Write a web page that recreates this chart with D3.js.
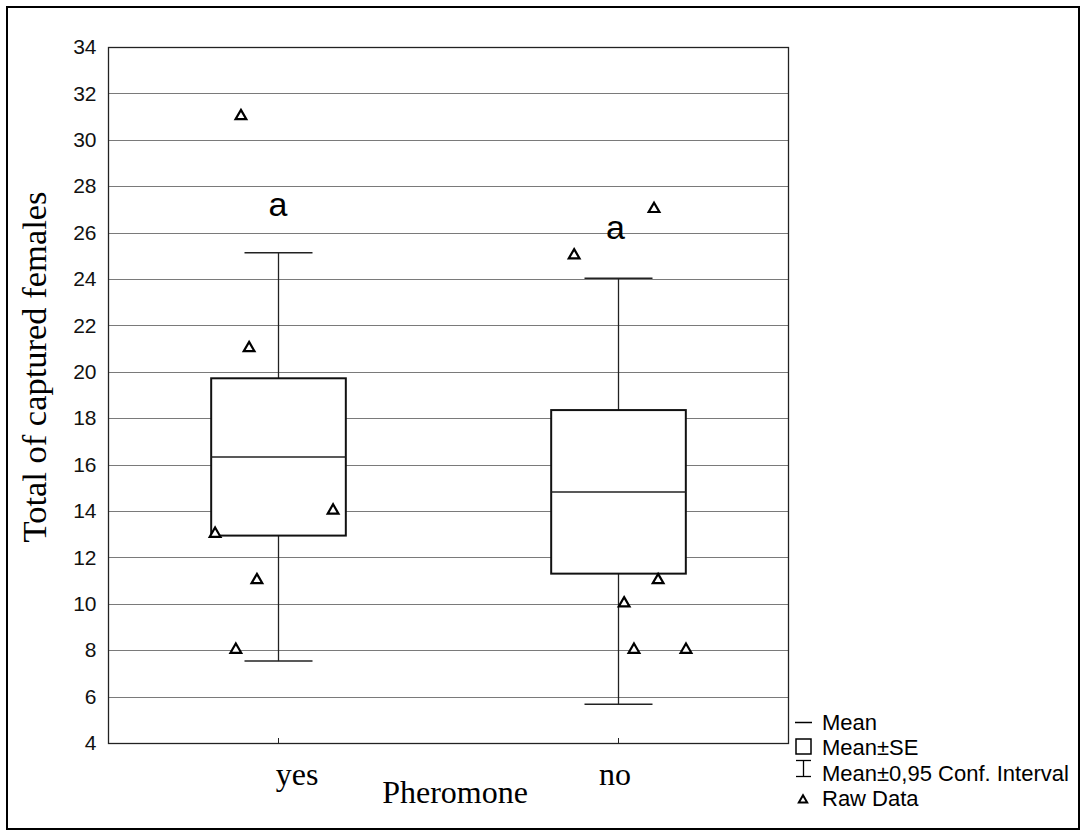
<!DOCTYPE html>
<html>
<head>
<meta charset="utf-8">
<script src="https://cdn.jsdelivr.net/npm/d3@7"></script>
<style>
  body { margin: 0; background: #fff; }
  svg { display: block; }
</style>
</head>
<body>
<svg id="chart" width="1081" height="830"></svg>
<script>
// ---- data ----
const categories = ["yes", "no"];
const means = [16.33, 14.82];
const seLow = [12.94, 11.30];
const seHigh = [19.72, 18.35];
const ciLow = [7.53, 5.67];
const ciHigh = [25.13, 24.03];
const rawYes = [31, 21, 14, 13, 11, 8];
const rawNo = [25, 27, 11, 10, 8, 8];
// horizontal jitter of raw points, as fraction of category band
const jitterYes = [-0.109, -0.085, 0.162, -0.185, -0.062, -0.124];
const jitterNo = [-0.129, 0.106, 0.118, 0.018, 0.047, 0.200];
const letters = ["a", "a"];
const letterValues = [26.72, 25.72];
const yTicks = [4, 6, 8, 10, 12, 14, 16, 18, 20, 22, 24, 26, 28, 30, 32, 34];
const legendLabels = ["Mean", "Mean±SE", "Mean±0,95 Conf. Interval", "Raw Data"];

// ---- layout ----
const svg = d3.select("#chart");
const plot = { left: 108, right: 788, top: 47, bottom: 743 };
const serif = "Liberation Serif, Times New Roman, serif";
const sans = "Liberation Sans, Arial, sans-serif";

svg.append("rect").attr("x", 7).attr("y", 7).attr("width", 1072).attr("height", 822)
  .attr("fill", "none").attr("stroke", "#000").attr("stroke-width", 2);

const x = d3.scaleBand().domain(categories).range([plot.left, plot.right]);
const y = d3.scaleLinear().domain([4, 34]).range([plot.bottom, plot.top]);

// grid lines
svg.append("g").selectAll("line").data(yTicks.slice(1)).join("line")
  .attr("x1", plot.left).attr("x2", plot.right)
  .attr("y1", d => Math.round(y(d)) + 0.5).attr("y2", d => Math.round(y(d)) + 0.5)
  .attr("stroke", "#7a7a7a").attr("stroke-width", 1);

// y axis labels
const yAxis = d3.axisLeft(y).tickValues(yTicks).tickSize(0).tickPadding(12).tickFormat(d3.format("d"));
const gy = svg.append("g").attr("transform", `translate(${plot.left + 0.5},0)`).call(yAxis);
gy.select(".domain").remove();
gy.selectAll("text").attr("font-family", sans).attr("font-size", 21).attr("fill", "#111");

// plot frame
svg.append("rect").attr("x", plot.left + 0.5).attr("y", plot.top + 0.5)
  .attr("width", plot.right - plot.left).attr("height", plot.bottom - plot.top)
  .attr("fill", "none").attr("stroke", "#222").attr("stroke-width", 1.3);

// x axis labels
const xAxis = d3.axisBottom(x).tickSize(0).tickPadding(0);
const gx = svg.append("g").attr("transform", `translate(0,${plot.bottom})`).call(xAxis);
gx.select(".domain").remove();
gx.selectAll("text").attr("font-family", serif).attr("font-size", 32).attr("fill", "#000")
  .attr("dy", null).attr("y", 42)
  .attr("dx", d => d === "yes" ? 19 : -3);
svg.append("g").selectAll("line").data(categories).join("line")
  .attr("x1", d => Math.round(x(d) + x.bandwidth() / 2) + 0.5)
  .attr("x2", d => Math.round(x(d) + x.bandwidth() / 2) + 0.5)
  .attr("y1", plot.bottom).attr("y2", plot.bottom - 5)
  .attr("stroke", "#222");

// axis titles
svg.append("text").attr("x", 455).attr("y", 803).attr("text-anchor", "middle")
  .attr("font-family", serif).attr("font-size", 32)
  .text("Pheromone");
svg.append("text").attr("transform", "translate(46,367) rotate(-90)").attr("text-anchor", "middle")
  .attr("font-family", serif).attr("font-size", 34.5)
  .text("Total of captured females");

// boxes
const cx = i => x(categories[i]) + x.bandwidth() / 2;
const boxHalf = x.bandwidth() * 0.198;
const capHalf = x.bandwidth() * 0.1;
const g = svg.append("g");
categories.forEach((c, i) => {
  const xc = Math.round(cx(i)) + 0.5;
  g.append("line").attr("x1", xc).attr("x2", xc).attr("y1", y(ciHigh[i])).attr("y2", y(seHigh[i]))
    .attr("stroke", "#222").attr("stroke-width", 1.3);
  g.append("line").attr("x1", xc).attr("x2", xc).attr("y1", y(seLow[i])).attr("y2", y(ciLow[i]))
    .attr("stroke", "#222").attr("stroke-width", 1.3);
  [ciHigh[i], ciLow[i]].forEach(v => {
    g.append("line").attr("x1", xc - capHalf).attr("x2", xc + capHalf).attr("y1", y(v)).attr("y2", y(v))
      .attr("stroke", "#222").attr("stroke-width", 1.5);
  });
  g.append("rect").attr("x", xc - boxHalf).attr("y", y(seHigh[i]))
    .attr("width", boxHalf * 2).attr("height", y(seLow[i]) - y(seHigh[i]))
    .attr("fill", "#fff").attr("stroke", "#111").attr("stroke-width", 2);
  g.append("line").attr("x1", xc - boxHalf).attr("x2", xc + boxHalf).attr("y1", y(means[i])).attr("y2", y(means[i]))
    .attr("stroke", "#222").attr("stroke-width", 1.5);
});

// raw data triangles
const tri = d3.symbol().type(d3.symbolTriangle).size(50);
const raws = [rawYes, rawNo];
const jit = [jitterYes, jitterNo];
categories.forEach((c, i) => {
  svg.append("g").selectAll("path").data(raws[i]).join("path")
    .attr("d", tri)
    .attr("transform", (d, j) => `translate(${cx(i) + jit[i][j] * x.bandwidth()},${y(d) - 0.5})`)
    .attr("fill", "#fff").attr("stroke", "#000").attr("stroke-width", 2.2);
});

// letters
svg.append("g").selectAll("text").data(letters).join("text")
  .attr("x", (d, i) => cx(i) - (i === 1 ? 2.5 : 0))
  .attr("y", (d, i) => y(letterValues[i]))
  .attr("text-anchor", "middle")
  .attr("font-family", sans).attr("font-size", 34)
  .text(d => d);

// legend
const lg = svg.append("g").attr("font-family", sans).attr("font-size", 22);
const ly = [730, 755, 781, 806];
legendLabels.forEach((t, i) => {
  lg.append("text").attr("x", 822).attr("y", ly[i]).text(t);
});
lg.append("line").attr("x1", 795).attr("x2", 812).attr("y1", 722.5).attr("y2", 722.5).attr("stroke", "#000").attr("stroke-width", 1.5);
lg.append("rect").attr("x", 796).attr("y", 739).attr("width", 15).attr("height", 15)
  .attr("fill", "#fff").attr("stroke", "#000").attr("stroke-width", 1.5);
lg.append("line").attr("x1", 803.5).attr("x2", 803.5).attr("y1", 760).attr("y2", 776).attr("stroke", "#000").attr("stroke-width", 1.3);
lg.append("line").attr("x1", 796).attr("x2", 811).attr("y1", 760.5).attr("y2", 760.5).attr("stroke", "#000").attr("stroke-width", 1.3);
lg.append("line").attr("x1", 796).attr("x2", 811).attr("y1", 776.5).attr("y2", 776.5).attr("stroke", "#000").attr("stroke-width", 1.3);
lg.append("path").attr("d", d3.symbol().type(d3.symbolTriangle).size(30))
  .attr("transform", "translate(803,800)").attr("fill", "#fff").attr("stroke", "#000").attr("stroke-width", 2);
</script>
</body>
</html>
